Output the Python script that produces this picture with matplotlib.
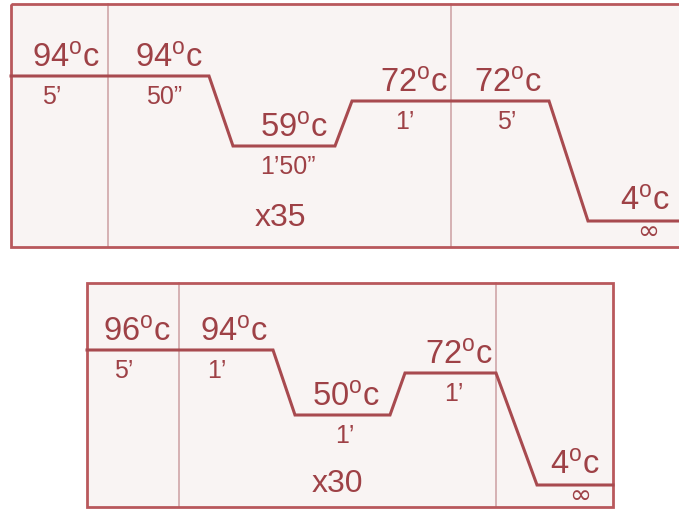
import matplotlib
matplotlib.use("Agg")
import matplotlib.pyplot as plt
from matplotlib.patches import Rectangle

plt.rcParams['font.family'] = ['Liberation Sans', 'DejaVu Sans']
plt.rcParams['mathtext.fontset'] = 'custom'
plt.rcParams['mathtext.rm'] = 'Liberation Sans'
plt.rcParams['mathtext.it'] = 'Liberation Sans:italic'
plt.rcParams['mathtext.bf'] = 'Liberation Sans:bold'

# ---------------- data ----------------
top_temps = [94, 94, 59, 72, 72, 4]
top_times = ["5’", "50”", "1’50”", "1’", "5’", "∞"]
top_cycles = "x35"

bottom_temps = [96, 94, 50, 72, 4]
bottom_times = ["5’", "1’", "1’", "1’", "∞"]
bottom_cycles = "x30"

# ---------------- layout (pixels) ----------------
top_box = (11, 4, 700, 247)          # x0, y0, x1, y1
top_dividers = [108, 451]
top_x0 = [11, 108, 233, 352, 451, 588]
top_x1 = [108, 209, 335, 451, 549, 679]
top_level = [76, 76, 146, 101, 101, 221]
top_temp_right = [100, 203, 328, 448, 542, 670]
top_time_cx = [52, 164, 288, 405, 507, 648]
top_cycles_pos = (280, 226)

bot_box = (87, 283, 613, 507)
bot_dividers = [179, 496]
bot_x0 = [87, 179, 295, 405, 537]
bot_x1 = [179, 273, 390, 496, 613]
bot_level = [350, 350, 415, 373, 485]
bot_temp_right = [171, 268, 380, 493, 600]
bot_time_cx = [124, 217, 345, 454, 580]
bot_cycles_pos = (337, 492)

# ---------------- style ----------------
FILL = '#f9f4f3'
BORDER = '#b9585c'
DIVIDER = '#cc9fa1'
LINE = '#a84a4f'
TEXT = '#9e4146'
BIG = 23.5
SMALL = 18
CYC = 23
INF = 19

fig = plt.figure(figsize=(6.79, 5.09), dpi=100)
fig.patch.set_facecolor('white')
ax = fig.add_axes([0, 0, 1, 1])
ax.set_xlim(0, 679)
ax.set_ylim(509, 0)
ax.axis('off')


def panel(box, dividers, x0, x1, level, temps, times, temp_right, time_cx, cyc, cyc_pos):
    bx0, by0, bx1, by1 = box
    ax.add_patch(Rectangle((bx0, by0), bx1 - bx0, by1 - by0, facecolor=FILL,
                           edgecolor='none', zorder=0))
    for d in dividers:
        ax.plot([d, d], [by0, by1], color=DIVIDER, lw=1.1, zorder=1)
    ax.add_patch(Rectangle((bx0, by0), bx1 - bx0, by1 - by0, facecolor='none',
                           edgecolor=BORDER, lw=2.0, zorder=2))
    xs, ys = [], []
    for a, b, lv in zip(x0, x1, level):
        xs += [a, b]
        ys += [lv, lv]
    ax.plot(xs, ys, color=LINE, lw=2.2, solid_joinstyle='miter', zorder=3)
    for i, (t, tm) in enumerate(zip(temps, times)):
        last = (tm == "∞")
        ax.text(temp_right[i], level[i] - (10 if last else 8), r"$\mathrm{%d^{o}c}$" % t,
                ha='right', va='baseline', fontsize=BIG, color=TEXT, zorder=4)
        if last:
            ax.text(time_cx[i], level[i] + 18, tm, ha='center', va='baseline',
                    fontsize=INF, color=TEXT, family='DejaVu Sans', zorder=4)
        else:
            ax.text(time_cx[i], level[i] + 28, tm, ha='center', va='baseline',
                    fontsize=SMALL, color=TEXT, zorder=4)
    ax.text(cyc_pos[0], cyc_pos[1], cyc, ha='center', va='baseline',
            fontsize=CYC, color=TEXT, zorder=4)


panel(top_box, top_dividers, top_x0, top_x1, top_level, top_temps, top_times,
      top_temp_right, top_time_cx, top_cycles, top_cycles_pos)
panel(bot_box, bot_dividers, bot_x0, bot_x1, bot_level, bottom_temps, bottom_times,
      bot_temp_right, bot_time_cx, bottom_cycles, bot_cycles_pos)

fig.savefig('out.png', dpi=100, facecolor='white')
